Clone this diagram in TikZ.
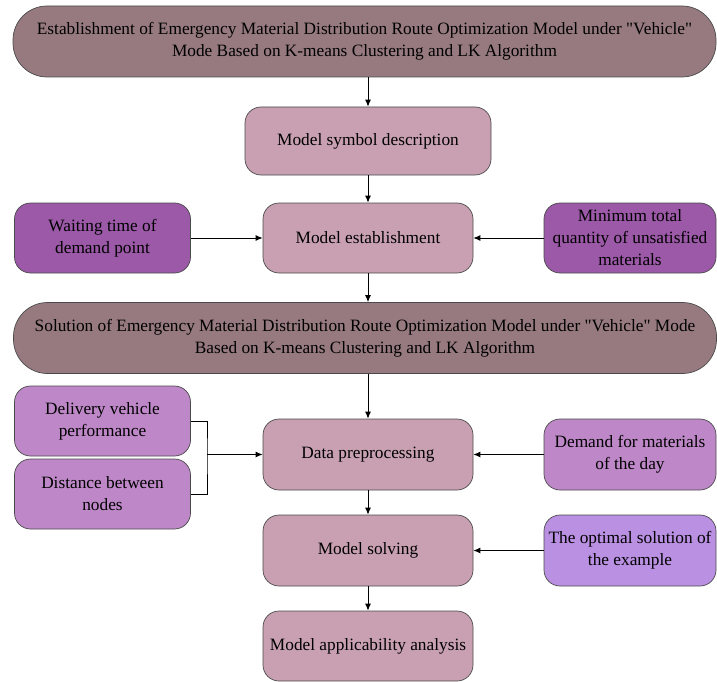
\documentclass[tikz,border=0pt]{standalone}
\usepackage{fontspec}
\setmainfont{Liberation Serif}[Ligatures=TeXOff]
\usetikzlibrary{arrows.meta}
\definecolor{bannerc}{HTML}{967A80}
\definecolor{lightc}{HTML}{C8A0B2}
\definecolor{darkp}{HTML}{9B59A8}
\definecolor{medp}{HTML}{BE88C8}
\definecolor{optc}{HTML}{BA90E2}
\definecolor{edgec}{HTML}{4A4A4A}
\tikzset{
  base/.style={draw=edgec, line width=0.7pt, align=center, inner sep=2pt, font=\fontsize{17.3}{22}\selectfont, text=black},
  banner/.style={base, fill=bannerc, rounded corners=34pt, minimum width=703pt, minimum height=71pt},
  mainbox/.style={base, fill=lightc, rounded corners=16pt, minimum width=210pt, minimum height=70pt},
  sidebox/.style={base, rounded corners=16pt, minimum width=176pt, minimum height=70pt},
  arr/.style={-{Latex[length=7pt,width=6pt]}, line width=0.9pt, black},
  ln/.style={line width=0.9pt, black}
}
\begin{document}
\begin{tikzpicture}[x=1pt,y=-1pt]
\useasboundingbox (0,0) rectangle (717,682);
\node[banner] (b1) at (364.5,41.5) {Establishment of Emergency Material Distribution Route Optimization Model under "Vehicle"\\Mode Based on K-means Clustering and LK Algorithm};
\node[mainbox, minimum width=246pt, minimum height=68pt] (sym) at (368,141) {Model symbol description};
\node[mainbox] (est) at (368,238) {Model establishment};
\node[sidebox, fill=darkp] (wait) at (102.5,238) {Waiting time of\\demand point};
\node[sidebox, fill=darkp, minimum width=172pt] (min) at (630,238) {Minimum total\\quantity of unsatisfied\\materials};
\node[banner] (b2) at (365,338) {Solution of Emergency Material Distribution Route Optimization Model under "Vehicle" Mode\\Based on K-means Clustering and LK Algorithm};
\node[sidebox, fill=medp] (dv) at (102.5,421) {Delivery vehicle\\performance};
\node[sidebox, fill=medp] (dist) at (102.5,494) {Distance between\\nodes};
\node[mainbox, minimum height=71pt] (data) at (368,454.5) {Data preprocessing};
\node[sidebox, fill=medp, minimum width=172pt, minimum height=71pt] (dem) at (630,454.5) {Demand for materials\\of the day};
\node[mainbox, minimum height=71pt] (solve) at (368,550.5) {Model solving};
\node[sidebox, fill=optc, minimum width=172pt, minimum height=71pt] (opt) at (630,550.5) {The optimal solution of\\the example};
\node[mainbox] (ana) at (368,646) {Model applicability analysis};
\coordinate (brk) at (207,454.5);
\draw[arr] (b1.south -| sym) -- (sym.north);
\draw[arr] (sym) -- (est);
\draw[arr] (wait) -- (est);
\draw[arr] (min) -- (est);
\draw[arr] (est.south) -- (b2.north -| est);
\draw[arr] (b2.south -| data) -- (data.north);
\draw[ln] (dv.east) -| (brk) |- (dist.east);
\draw[arr] (brk) -- (data.west);
\draw[arr] (dem) -- (data);
\draw[arr] (data) -- (solve);
\draw[arr] (opt) -- (solve);
\draw[arr] (solve) -- (ana);
\end{tikzpicture}
\end{document}
